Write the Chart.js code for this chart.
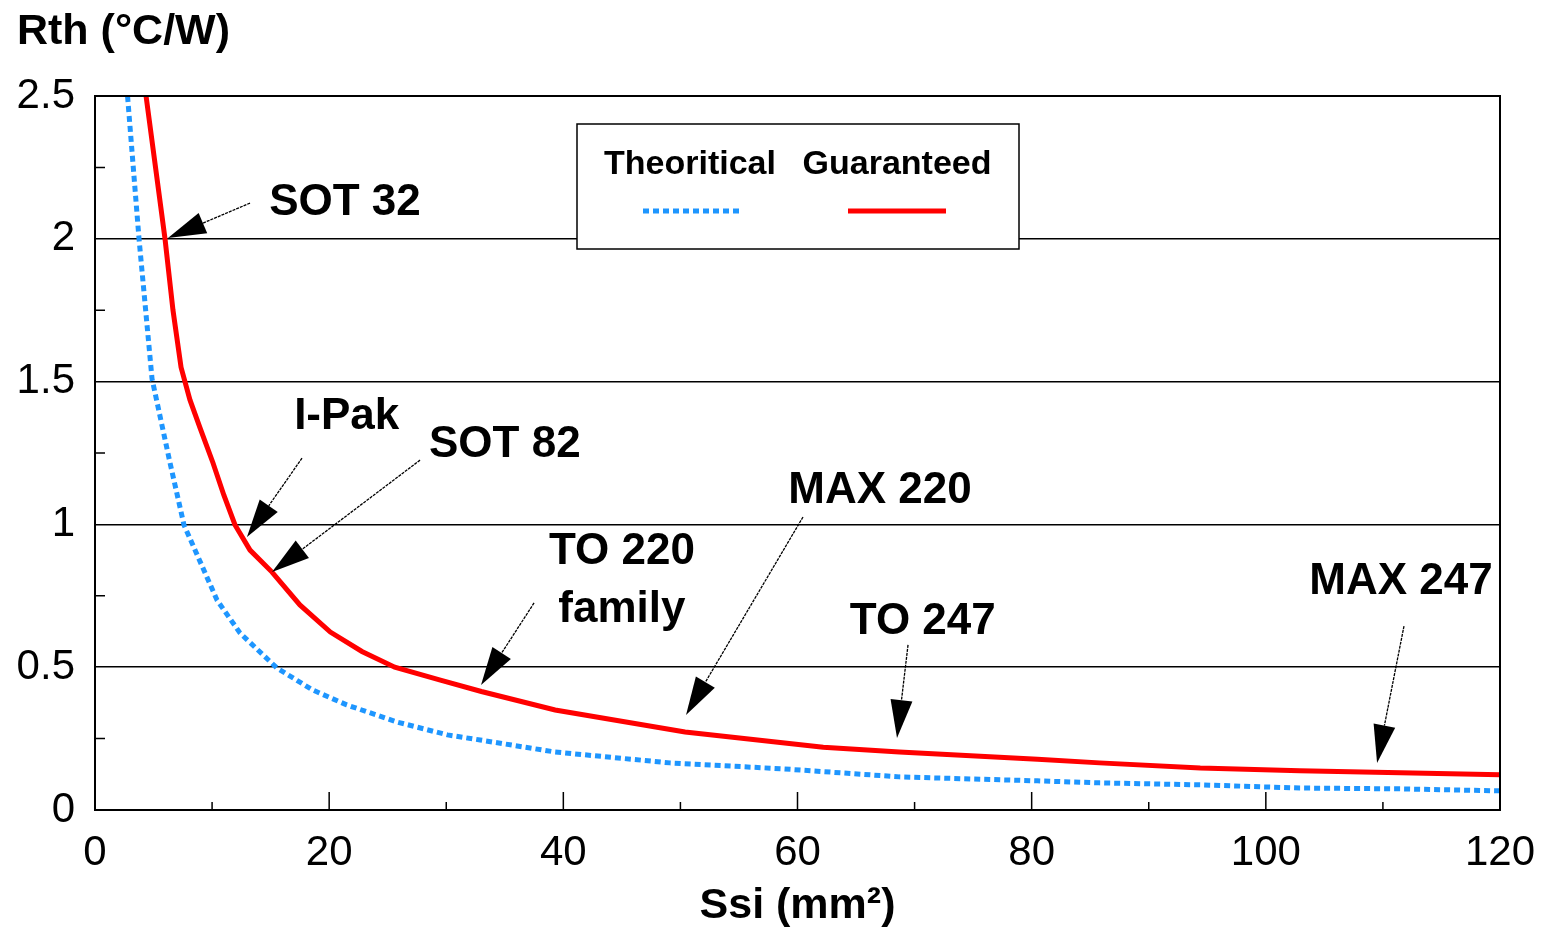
<!DOCTYPE html>
<html>
<head>
<meta charset="utf-8">
<script src="https://cdn.jsdelivr.net/npm/chart.js@4.4.1/dist/chart.umd.min.js"></script>
<style>
  html, body { margin: 0; padding: 0; background: #fff; }
  #wrap { width: 1545px; height: 928px; }
</style>
</head>
<body>
<div id="wrap"><canvas id="c"></canvas></div>
<script>
/* ── Data ──────────────────────────────────────────────── */
const theoSsi = [2.78, 3.76, 4.87, 6.41, 7.6, 8.28, 10.42, 12.38, 15.54, 18.6, 21.5, 25.8, 30.1, 32.9, 39.3, 49.1, 58.8, 68.7, 80.5, 85.8, 94.4, 102.9, 111.5, 120];
const theoRth = [2.5, 2.0, 1.51, 1.215, 0.998, 0.935, 0.735, 0.62, 0.497, 0.42, 0.368, 0.308, 0.263, 0.245, 0.203, 0.165, 0.144, 0.116, 0.102, 0.095, 0.088, 0.077, 0.074, 0.067];

const guarSsi = [4.36, 5.98, 6.66, 7.35, 8.11, 8.97, 10.08, 11.0, 11.96, 13.24, 15.12, 17.5, 20.1, 22.8, 25.6, 29.5, 33, 39.3, 50.4, 62.2, 68.7, 80.5, 85.8, 94.4, 102.9, 111.5, 120];
const guarRth = [2.5, 2.0, 1.75, 1.55, 1.436, 1.338, 1.215, 1.103, 0.998, 0.91, 0.833, 0.718, 0.623, 0.555, 0.5, 0.455, 0.415, 0.35, 0.273, 0.22, 0.203, 0.178, 0.165, 0.147, 0.137, 0.13, 0.123];

const xTicks = [0, 20, 40, 60, 80, 100, 120];
const yTicks = [0, 0.5, 1, 1.5, 2, 2.5];
const xMinor = [10, 30, 50, 70, 90, 110];
const yMinor = [0.25, 0.75, 1.25, 1.75, 2.25];

// package labels: text lines, text centre, arrow start, arrow tip (data units)
const pkgNames  = [['SOT 32'], ['I-Pak'], ['SOT 82'], ['TO 220', 'family'], ['MAX 220'], ['TO 247'], ['MAX 247']];
const pkgTextAt = [[21.35, 2.125], [21.5, 1.376], [35.0, 1.278], [45.0, 0.903], [67.05, 1.117], [70.7, 0.658], [111.55, 0.798]];
const pkgFrom   = [[13.24, 2.125], [17.68, 1.232], [27.76, 1.225], [37.5, 0.725], [60.47, 1.026], [69.44, 0.578], [111.8, 0.644]];
const pkgTip    = [[6.23, 2.003], [12.98, 0.956], [15.12, 0.833], [32.97, 0.438], [50.48, 0.333], [68.5, 0.252], [109.5, 0.165]];

const FONT = '"Liberation Sans", Arial, sans-serif';
const BLUE = '#1E96FF';
const RED  = '#FF0000';

const toXY = (xs, ys) => xs.map((x, i) => ({ x: x, y: ys[i] }));

/* ── Frame, inward ticks, legend box, annotations ───────── */
const decor = {
    id: 'decor',
    afterDatasetsDraw(chart) {
        const { ctx, chartArea: a, scales: { x, y } } = chart;
        ctx.save();

        // frame
        ctx.strokeStyle = '#000';
        ctx.lineWidth = 2;
        ctx.strokeRect(a.left, a.top, a.right - a.left, a.bottom - a.top);

        // inward ticks
        ctx.lineWidth = 1.5;
        ctx.beginPath();
        yMinor.forEach(v => {
            const py = y.getPixelForValue(v);
            ctx.moveTo(a.left, py); ctx.lineTo(a.left + 10, py);
        });
        xMinor.forEach(v => {
            const px = x.getPixelForValue(v);
            ctx.moveTo(px, a.bottom); ctx.lineTo(px, a.bottom - 8);
        });
        xTicks.slice(1, -1).forEach(v => {
            const px = x.getPixelForValue(v);
            ctx.moveTo(px, a.bottom); ctx.lineTo(px, a.bottom - 18);
        });
        ctx.stroke();

        // legend box
        const lx = a.left + 482, ly = a.top + 28;
        ctx.fillStyle = '#fff';
        ctx.fillRect(lx, ly, 442, 125);
        ctx.lineWidth = 1.5;
        ctx.strokeRect(lx, ly, 442, 125);
        ctx.fillStyle = '#000';
        ctx.font = 'bold 34px ' + FONT;
        ctx.textAlign = 'center';
        ctx.textBaseline = 'middle';
        const ds = chart.data.datasets;
        ctx.fillText(ds[0].label, lx + 113, ly + 41);
        ctx.fillText(ds[1].label, lx + 320, ly + 41);
        ctx.lineWidth = 5;
        ctx.strokeStyle = ds[0].borderColor;
        ctx.setLineDash(ds[0].borderDash);
        ctx.beginPath(); ctx.moveTo(lx + 66, ly + 87); ctx.lineTo(lx + 164, ly + 87); ctx.stroke();
        ctx.setLineDash([]);
        ctx.strokeStyle = ds[1].borderColor;
        ctx.beginPath(); ctx.moveTo(lx + 271, ly + 87); ctx.lineTo(lx + 369, ly + 87); ctx.stroke();

        // package annotations
        ctx.font = 'bold 44px ' + FONT;
        ctx.fillStyle = '#000';
        ctx.strokeStyle = '#000';
        pkgNames.forEach((lines, i) => {
            const tx = x.getPixelForValue(pkgTextAt[i][0]);
            const ty = y.getPixelForValue(pkgTextAt[i][1]);
            lines.forEach((s, k) => ctx.fillText(s, tx, ty + k * 58));

            const x0 = x.getPixelForValue(pkgFrom[i][0]), y0 = y.getPixelForValue(pkgFrom[i][1]);
            const x1 = x.getPixelForValue(pkgTip[i][0]),  y1 = y.getPixelForValue(pkgTip[i][1]);
            const ang = Math.atan2(y1 - y0, x1 - x0);
            const hl = 38, hw = 11;
            const bx = x1 - hl * Math.cos(ang), by = y1 - hl * Math.sin(ang);
            ctx.lineWidth = 1.3;
            ctx.setLineDash([3, 1]);
            ctx.beginPath(); ctx.moveTo(x0, y0); ctx.lineTo(bx, by); ctx.stroke();
            ctx.setLineDash([]);
            ctx.beginPath();
            ctx.moveTo(x1, y1);
            ctx.lineTo(bx + hw * Math.sin(ang), by - hw * Math.cos(ang));
            ctx.lineTo(bx - hw * Math.sin(ang), by + hw * Math.cos(ang));
            ctx.closePath();
            ctx.fill();
        });

        // y axis caption
        ctx.font = 'bold 43px ' + FONT;
        ctx.textAlign = 'left';
        ctx.fillText('Rth (°C/W)', 17, 32);
        ctx.restore();
    },
};

new Chart(document.getElementById('c'), {
    type : 'scatter',
    data : {
        datasets : [
            {
                label       : 'Theoritical',
                data        : toXY(theoSsi, theoRth),
                showLine    : true,
                borderColor : BLUE,
                borderWidth : 5,
                borderDash  : [6, 4],
                pointRadius : 0,
                tension     : 0,
            },
            {
                label       : 'Guaranteed',
                data        : toXY(guarSsi, guarRth),
                showLine    : true,
                borderColor : RED,
                borderWidth : 5,
                pointRadius : 0,
                tension     : 0,
            },
        ],
    },
    options : {
        responsive          : true,
        maintainAspectRatio : false,
        animation           : false,
        layout  : { padding: { top: 96, right: 45, left: 0, bottom: 0 } },
        plugins : {
            legend  : { display: false },
            tooltip : { enabled: false },
        },
        scales : {
            x : {
                type : 'linear',
                min  : 0,
                max  : 120,
                afterBuildTicks : s => { s.ticks = xTicks.map(v => ({ value: v })); },
                afterFit        : s => { s.height = 118; s.paddingRight = 0; s.paddingLeft = 0; },
                grid   : { display: false, drawTicks: false },
                border : { display: false },
                ticks  : { color: '#000', padding: 18, font: { family: FONT, size: 42 }, callback: v => String(v) },
                title  : {
                    display : true,
                    text    : 'Ssi (mm²)',
                    color   : '#000',
                    font    : { family: FONT, size: 43, weight: 'bold' },
                    padding : { top: 0, bottom: -4 },
                },
            },
            y : {
                type : 'linear',
                min  : 0,
                max  : 2.5,
                afterBuildTicks : s => { s.ticks = yTicks.map(v => ({ value: v })); },
                afterFit        : s => { s.width = 95; s.paddingTop = 0; s.paddingBottom = 0; },
                grid   : {
                    drawTicks : false,
                    lineWidth : 1.5,
                    color     : c => (c.tick && c.tick.value > 0 && c.tick.value < 2.5) ? '#000' : 'rgba(0,0,0,0)',
                },
                border : { display: false },
                ticks  : { color: '#000', padding: 20, font: { family: FONT, size: 42 }, callback: v => String(v) },
            },
        },
    },
    plugins : [decor],
});
</script>
</body>
</html>
